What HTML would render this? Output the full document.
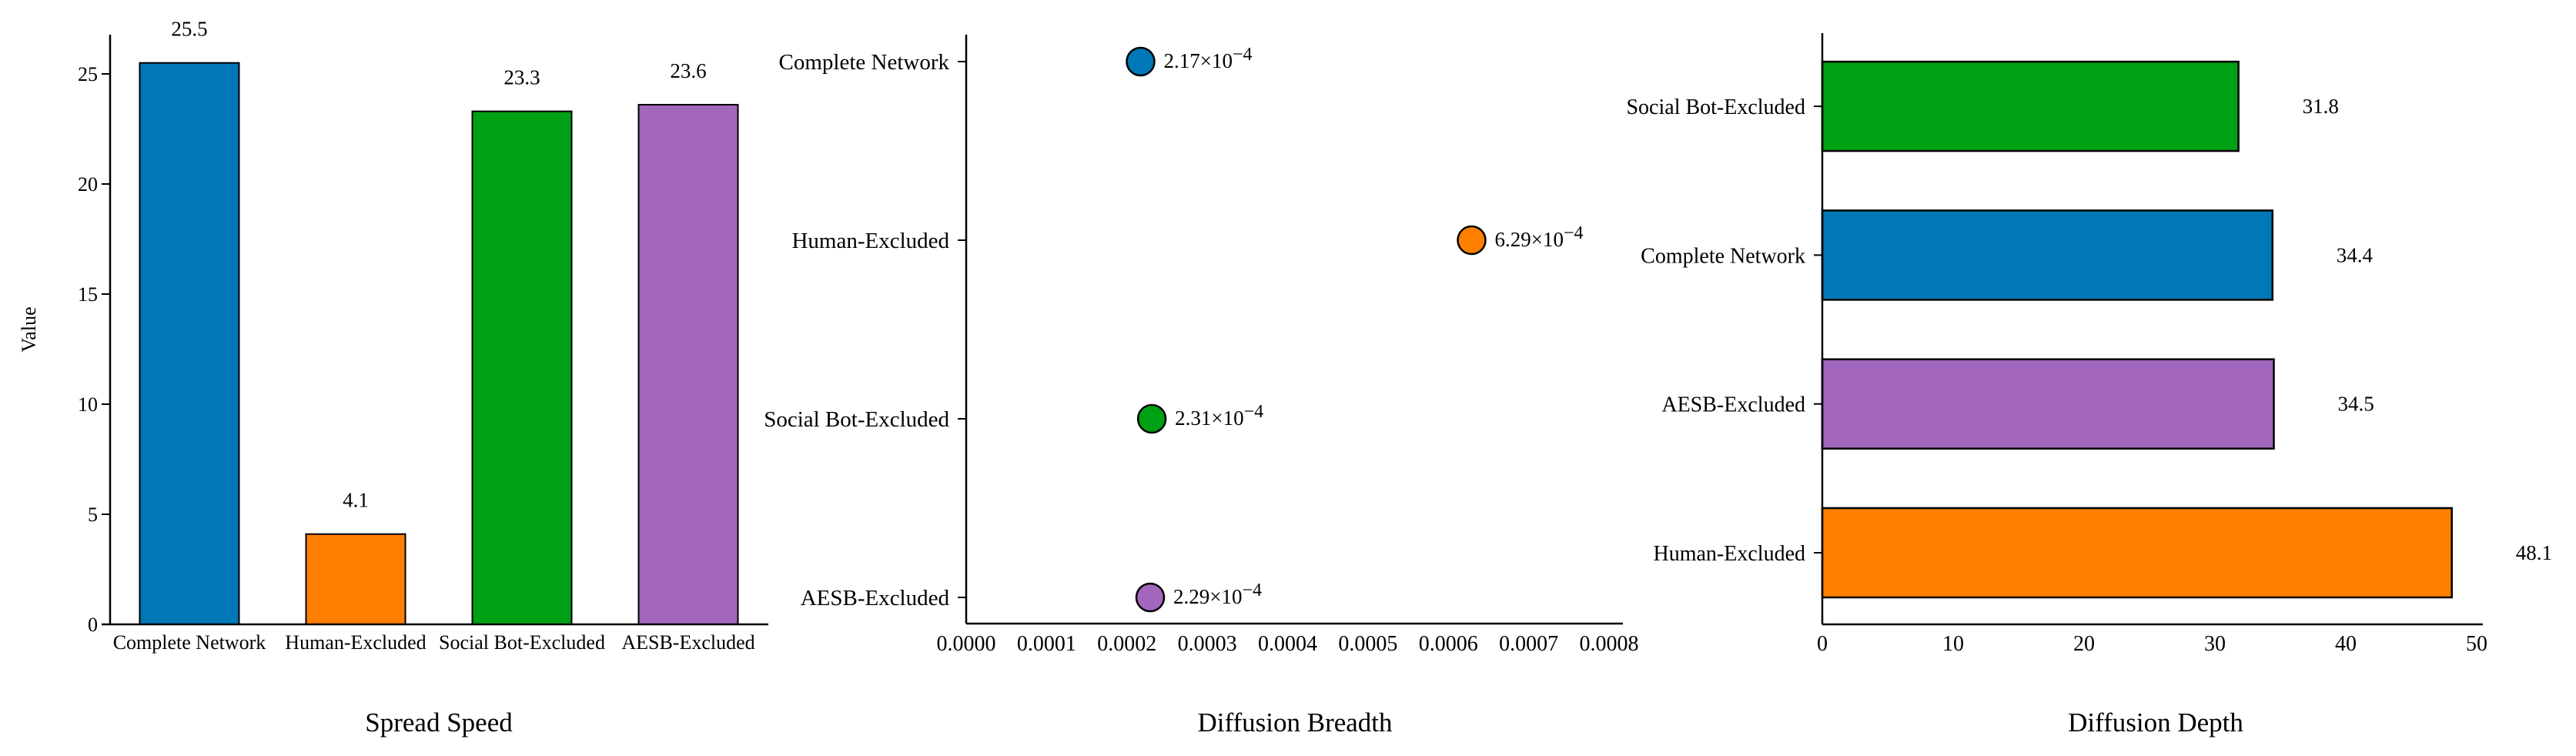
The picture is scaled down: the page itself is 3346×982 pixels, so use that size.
<!DOCTYPE html>
<html><head><meta charset="utf-8"><style>
html,body{margin:0;padding:0;background:#fff;}
svg{display:block;font-family:"Liberation Serif",serif;}
</style></head><body>
<svg id="chart" width="3346" height="982" viewBox="0 0 3346 982" xmlns="http://www.w3.org/2000/svg">
<g id="p1"></g>
<g id="p2"></g>
<g id="p3"></g>
</svg>
<script>
const speedCats = ["Complete Network","Human-Excluded","Social Bot-Excluded","AESB-Excluded"];
const speedVals = [25.5, 4.1, 23.3, 23.6];
const speedLabels = ["25.5","4.1","23.3","23.6"];
const speedTicks = [0,5,10,15,20,25];
const breadthCats = ["Complete Network","Human-Excluded","Social Bot-Excluded","AESB-Excluded"];
const breadthVals = [0.000217, 0.000629, 0.000231, 0.000229];
const breadthLabels = ["2.17","6.29","2.31","2.29"];
const breadthTicks = [0,0.0001,0.0002,0.0003,0.0004,0.0005,0.0006,0.0007,0.0008];
const depthCats = ["Human-Excluded","AESB-Excluded","Complete Network","Social Bot-Excluded"];
const depthVals = [48.1, 34.5, 34.4, 31.8];
const depthLabels = ["48.1","34.5","34.4","31.8"];
const depthTicks = [0,10,20,30,40,50];
const colorMap = {"Complete Network":"#0077b6","Human-Excluded":"#ff7f00","Social Bot-Excluded":"#00a014","AESB-Excluded":"#a366bd"};

const NS="http://www.w3.org/2000/svg";
function mk(parent,tag,attrs,text){const e=document.createElementNS(NS,tag);for(const k in attrs)e.setAttribute(k,attrs[k]);if(text!==undefined)e.textContent=text;parent.appendChild(e);return e;}

// Panel 1: vertical bars
(function(){
  const g=document.getElementById('p1');
  const x0=143,x1=998,yb=811;
  const ys=v=>yb-v*(715/25);
  const xs=i=>246+i*216;
  const bw=129;
  speedTicks.forEach(t=>{
    const l=mk(g,'line',{x1:x0-11,x2:x0,y1:ys(t),y2:ys(t),stroke:'#000','stroke-width':2});
    
    
    const tx=mk(g,'text',{x:x0-16,y:ys(t)+9,'text-anchor':'end','font-size':26},String(t));
    
    
  });
  speedVals.forEach((v,i)=>{
    const r=mk(g,'rect',{x:xs(i)-bw/2,y:ys(v),width:bw,height:yb-ys(v),fill:colorMap[speedCats[i]],stroke:'#000','stroke-width':2});
    
    
    const t=mk(g,'text',{x:xs(i),y:ys(v)-35,'text-anchor':'middle','font-size':27},speedLabels[i]);
    
    
    const c=mk(g,'text',{x:xs(i),y:843,'text-anchor':'middle','font-size':26},speedCats[i]);
    
    
  });
  const ax=mk(g,'line',{x1:x0,x2:x0,y1:45,y2:yb,stroke:'#000','stroke-width':2.5});
  
  
  const bx=mk(g,'line',{x1:x0-11,x2:x1,y1:yb,y2:yb,stroke:'#000','stroke-width':2.5});
  
  
  const yl=mk(g,'text',{x:0,y:0,transform:'translate(46,428) rotate(-90)','text-anchor':'middle','font-size':26},'Value');
  
  
  const ti=mk(g,'text',{x:570,y:950,'text-anchor':'middle','font-size':35},'Spread Speed');
  
  
})();

// Panel 2: dot plot
(function(){
  const g=document.getElementById('p2');
  const x0=1255,x1=2108,yb=810;
  const xs=v=>x0+v*(835/0.0008);
  const ys=i=>80+i*232;
  breadthTicks.forEach(t=>{
    const tx=mk(g,'text',{x:xs(t),y:845,'text-anchor':'middle','font-size':28},t.toFixed(4));
    
    
  });
  breadthVals.forEach((v,i)=>{
    const l=mk(g,'line',{x1:x0-11,x2:x0,y1:ys(i),y2:ys(i),stroke:'#000','stroke-width':2});
    
    
    const c=mk(g,'text',{x:x0-22,y:ys(i)+10,'text-anchor':'end','font-size':29},breadthCats[i]);
    
    
    const d=mk(g,'circle',{cx:xs(v),cy:ys(i),r:18,fill:colorMap[breadthCats[i]],stroke:'#000','stroke-width':2.5});
    
    
    const t=mk(g,'text',{x:xs(v)+30,y:ys(i)+8,'font-size':27});
    
    
    mk(t,'tspan',{},breadthLabels[i]+'\u00d710');
    mk(t,'tspan',{dy:-10,'font-size':24},'\u22124');
  });
  const ax=mk(g,'line',{x1:x0,x2:x0,y1:45,y2:yb,stroke:'#000','stroke-width':2.5});
  
  
  const bx=mk(g,'line',{x1:x0,x2:x1,y1:yb,y2:yb,stroke:'#000','stroke-width':2.5});
  
  
  const ti=mk(g,'text',{x:1682,y:950,'text-anchor':'middle','font-size':35},'Diffusion Breadth');
  
  
})();

// Panel 3: horizontal bars
(function(){
  const g=document.getElementById('p3');
  const x0=2367,x1=3225,yb=811;
  const xs=v=>x0+v*17.0;
  const ys=i=>718-i*193.3;
  const bh=116;
  depthTicks.forEach(t=>{
    const tx=mk(g,'text',{x:xs(t),y:845,'text-anchor':'middle','font-size':28},String(t));
    
    
  });
  depthVals.forEach((v,i)=>{
    const l=mk(g,'line',{x1:x0-11,x2:x0,y1:ys(i),y2:ys(i),stroke:'#000','stroke-width':2});
    
    
    const c=mk(g,'text',{x:x0-22,y:ys(i)+10,'text-anchor':'end','font-size':28},depthCats[i]);
    
    
    const r=mk(g,'rect',{x:x0,y:ys(i)-bh/2,width:xs(v)-x0,height:bh,fill:colorMap[depthCats[i]],stroke:'#000','stroke-width':2.5});
    
    
    const t=mk(g,'text',{x:xs(v)+83,y:ys(i)+9,'font-size':27},depthLabels[i]);
    
    
  });
  const ax=mk(g,'line',{x1:x0,x2:x0,y1:43,y2:yb,stroke:'#000','stroke-width':2.5});
  
  
  const bx=mk(g,'line',{x1:x0,x2:x1,y1:yb,y2:yb,stroke:'#000','stroke-width':2.5});
  
  
  const ti=mk(g,'text',{x:2800,y:950,'text-anchor':'middle','font-size':35},'Diffusion Depth');
  
  
})();
</script>
</body></html>
